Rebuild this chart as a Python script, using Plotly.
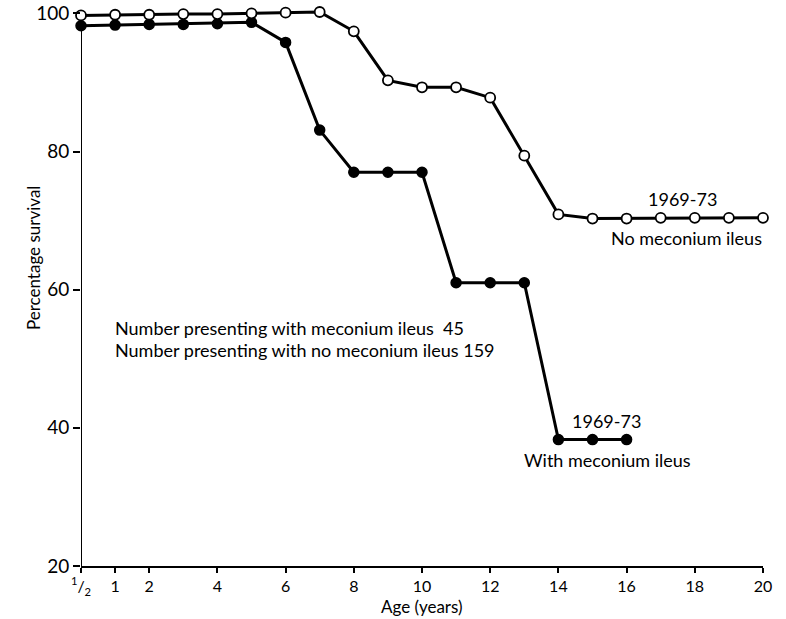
import plotly.graph_objects as go

ages = list(range(0, 21))  # position 0 represents age 1/2
no_mi = [99.7, 99.8, 99.8, 99.9, 99.9, 100.0, 100.1, 100.2, 97.4, 90.3, 89.3, 89.3,
         87.8, 79.4, 70.9, 70.3, 70.3, 70.4, 70.4, 70.4, 70.4]
ages_mi = list(range(0, 17))
with_mi = [98.2, 98.3, 98.4, 98.4, 98.5, 98.7, 95.8, 83.1, 77.0, 77.0, 77.0,
           61.0, 61.0, 61.0, 38.3, 38.3, 38.3]

xtick_vals = [0, 1, 2, 4, 6, 8, 10, 12, 14, 16, 18, 20]
xtick_text = ["<sup>1</sup>/<sub>2</sub>", "1", "2", "4", "6", "8", "10", "12", "14", "16", "18", "20"]
ytick_vals = [20, 40, 60, 80, 100]

FONT = "Lato"

fig = go.Figure()
fig.add_shape(type="line", xref="x", yref="y", x0=0, x1=0, y0=20, y1=99.3,
              line=dict(color="black", width=2), layer="below")
fig.add_trace(go.Scatter(
    x=ages_mi, y=with_mi, mode="lines+markers",
    line=dict(color="black", width=3),
    marker=dict(size=10, color="black", line=dict(color="black", width=1.5)),
    cliponaxis=False, showlegend=False))
fig.add_trace(go.Scatter(
    x=ages, y=no_mi, mode="lines+markers",
    line=dict(color="black", width=3),
    marker=dict(size=10, color="white", line=dict(color="black", width=1.8)),
    cliponaxis=False, showlegend=False))

ann_font = dict(family=FONT, size=18, color="black")
fig.add_annotation(x=17.65, y=73.2, text="1969-73", showarrow=False, font=ann_font)
fig.add_annotation(x=17.77, y=67.45, text="No meconium ileus", showarrow=False, font=ann_font)
fig.add_annotation(x=15.4, y=41.05, text="1969-73", showarrow=False, font=ann_font)
fig.add_annotation(x=15.45, y=35.3, text="With meconium ileus", showarrow=False, font=ann_font)
fig.add_annotation(x=0.94, y=54.5, text="Number presenting with meconium ileus  45",
                   showarrow=False, xanchor="left", font=ann_font)
fig.add_annotation(x=0.94, y=51.2, text="Number presenting with no meconium ileus 159",
                   showarrow=False, xanchor="left", font=ann_font)
# axis titles
fig.add_annotation(x=10.0, xref="x", y=-0.0725, yref="paper", text="Age (years)",
                   xanchor="center", yanchor="middle",
                   showarrow=False, font=dict(family=FONT, size=17, color="black"))
fig.add_annotation(x=-0.0704, xref="paper", y=0.547, yref="paper", text="Percentage survival",
                   xanchor="center", yanchor="middle",
                   textangle=-90, showarrow=False, font=dict(family=FONT, size=17, color="black"))

fig.update_layout(
    width=786, height=619,
    margin=dict(l=81, r=23, t=1, b=53),
    paper_bgcolor="white", plot_bgcolor="white",
    font=dict(family=FONT, color="black"),
    xaxis=dict(range=[0, 20], tickvals=xtick_vals, ticktext=xtick_text,
               showgrid=False, zeroline=False, showline=True, linecolor="black", linewidth=2,
               ticks="outside", ticklen=5, tickwidth=2, tickcolor="black",
               tickfont=dict(family=FONT, size=16), ticklabeloverflow="allow"),
    yaxis=dict(range=[20, 101.5], tickvals=ytick_vals,
               showgrid=False, zeroline=False, showline=False,
               ticks="outside", ticklen=7, tickwidth=2, tickcolor="black",
               tickfont=dict(family=FONT, size=19), ticklabeloverflow="allow"),
)

fig.write_html("out.html")
